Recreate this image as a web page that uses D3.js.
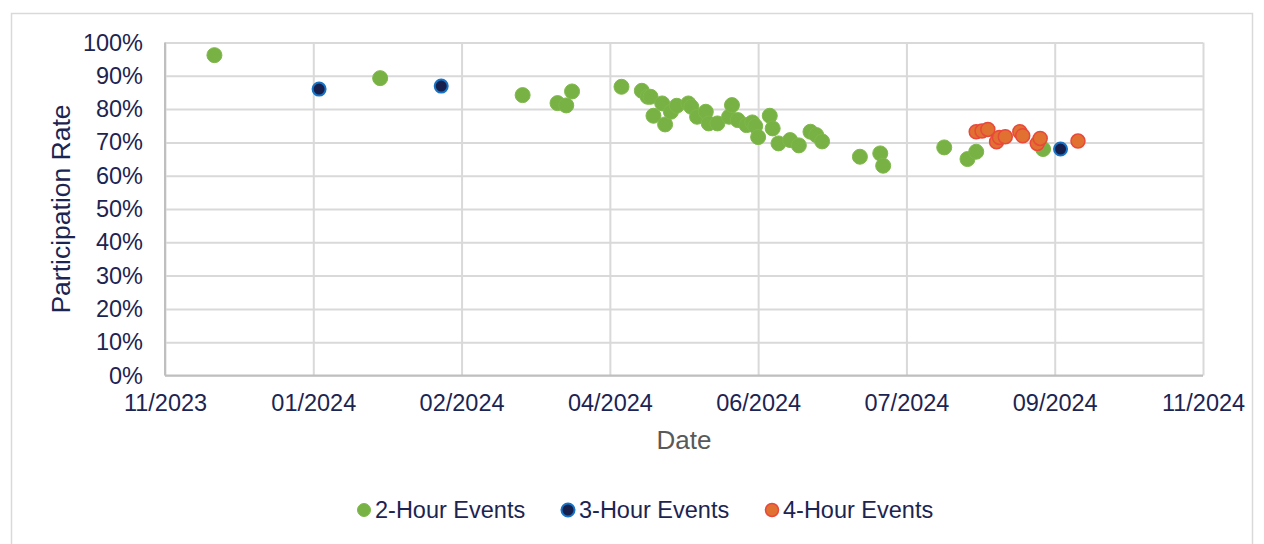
<!DOCTYPE html>
<html>
<head>
<meta charset="utf-8">
<script src="https://cdn.jsdelivr.net/npm/d3@7"></script>
<style>
    body { margin: 0; background: #fff; }
    svg { display: block; font-family: "Liberation Sans", Arial, sans-serif; }
</style>
</head>
<body>
<svg id="chart" width="1264" height="544"></svg>
<script>
'use strict';

// series data: [date, participation rate]
var twoHourEvents = [
    ['2023-11-29', 0.962], ['2024-01-25', 0.893], ['2024-03-14', 0.842],
    ['2024-03-26', 0.818], ['2024-03-29', 0.811], ['2024-03-31', 0.853],
    ['2024-04-17', 0.867], ['2024-04-24', 0.855], ['2024-04-26', 0.837],
    ['2024-04-27', 0.837], ['2024-04-28', 0.780], ['2024-05-01', 0.817],
    ['2024-05-02', 0.754], ['2024-05-04', 0.792], ['2024-05-06', 0.810],
    ['2024-05-10', 0.817], ['2024-05-11', 0.807], ['2024-05-13', 0.777],
    ['2024-05-16', 0.792], ['2024-05-17', 0.757], ['2024-05-20', 0.757],
    ['2024-05-24', 0.777], ['2024-05-25', 0.812], ['2024-05-27', 0.767],
    ['2024-05-30', 0.752], ['2024-06-01', 0.760], ['2024-06-02', 0.749],
    ['2024-06-03', 0.716], ['2024-06-07', 0.780], ['2024-06-08', 0.742],
    ['2024-06-10', 0.697], ['2024-06-14', 0.707], ['2024-06-17', 0.691],
    ['2024-06-21', 0.732], ['2024-06-23', 0.722], ['2024-06-25', 0.703],
    ['2024-07-08', 0.657], ['2024-07-15', 0.667], ['2024-07-16', 0.630],
    ['2024-08-06', 0.685], ['2024-08-14', 0.650], ['2024-08-17', 0.672],
    ['2024-09-09', 0.680]
];
var threeHourEvents = [
    ['2024-01-04', 0.860], ['2024-02-15', 0.869], ['2024-09-15', 0.680]
];
var fourHourEvents = [
    ['2024-08-17', 0.732], ['2024-08-19', 0.734], ['2024-08-21', 0.739],
    ['2024-08-24', 0.702], ['2024-08-25', 0.715], ['2024-08-27', 0.717],
    ['2024-09-01', 0.732], ['2024-09-02', 0.720], ['2024-09-07', 0.697],
    ['2024-09-08', 0.712], ['2024-09-21', 0.704]
];

var xTickDates = ['2023-11-12', '2024-01-02', '2024-02-22', '2024-04-13',
                  '2024-06-03', '2024-07-24', '2024-09-13', '2024-11-03'];
var yTickValues = [0, 0.1, 0.2, 0.3, 0.4, 0.5, 0.6, 0.7, 0.8, 0.9, 1];
var seriesNames = ['2-Hour Events', '3-Hour Events', '4-Hour Events'];

(function () {
    var parse = d3.timeParse('%Y-%m-%d');
    var svg = d3.select('#chart');

    var plot = { left: 165, right: 1203, top: 42.5, bottom: 375.5 };
    var tickDates = xTickDates.map(parse);

    var x = d3.scaleTime()
        .domain([tickDates[0], tickDates[tickDates.length - 1]])
        .range([plot.left, plot.right]);
    var y = d3.scaleLinear()
        .domain([0, 1])
        .range([plot.bottom, plot.top]);

    // outer chart border
    svg.append('rect')
        .attr('x', 11.5).attr('y', 13.5)
        .attr('width', 1241).attr('height', 545)
        .attr('fill', 'none')
        .attr('stroke', '#d9d9d9')
        .attr('stroke-width', 1.5);

    // horizontal grid
    var yAxis = d3.axisLeft(y)
        .tickValues(yTickValues)
        .tickSize(-(plot.right - plot.left))
        .tickPadding(22)
        .tickFormat(d3.format('.0%'));

    var gy = svg.append('g')
        .attr('transform', 'translate(' + plot.left + ',0)')
        .call(yAxis);
    gy.select('.domain').remove();
    gy.selectAll('line').attr('stroke', '#d9d9d9').attr('stroke-width', 2);
    gy.selectAll('text')
        .attr('fill', '#1c2452')
        .style('font-size', '23.5px');

    // vertical grid + date labels
    var xAxis = d3.axisBottom(x)
        .tickValues(tickDates)
        .tickSize(-(plot.bottom - plot.top))
        .tickPadding(19)
        .tickFormat(d3.timeFormat('%m/%Y'));

    var gx = svg.append('g')
        .attr('transform', 'translate(0,' + plot.bottom + ')')
        .call(xAxis);
    gx.select('.domain').remove();
    gx.selectAll('line').attr('stroke', '#d9d9d9').attr('stroke-width', 2);
    gx.selectAll('text')
        .attr('fill', '#1c2452')
        .style('font-size', '23.5px');

    // left and bottom axis lines
    svg.append('line')
        .attr('x1', plot.left).attr('x2', plot.left)
        .attr('y1', plot.top).attr('y2', plot.bottom)
        .attr('stroke', '#bfbfbf').attr('stroke-width', 2);
    svg.append('line')
        .attr('x1', plot.left).attr('x2', plot.right)
        .attr('y1', plot.bottom).attr('y2', plot.bottom)
        .attr('stroke', '#bfbfbf').attr('stroke-width', 2);

    // axis titles
    svg.append('text')
        .attr('transform', 'translate(70,209) rotate(-90)')
        .attr('text-anchor', 'middle')
        .attr('fill', '#1c2452')
        .style('font-size', '26.5px')
        .text('Participation Rate');

    svg.append('text')
        .attr('x', 684).attr('y', 449)
        .attr('text-anchor', 'middle')
        .attr('fill', '#595959')
        .style('font-size', '26px')
        .text('Date');

    var styles = [
        { fill: '#78b244', stroke: '#7fb84b', width: 1, r: 7.5 },
        { fill: '#17204d', stroke: '#1673c6', width: 2, r: 6.5 },
        { fill: '#e07131', stroke: '#e9483b', width: 1.5, r: 7 }
    ];

    function drawSeries(data, st) {
        svg.append('g').selectAll('circle')
            .data(data)
            .enter()
            .append('circle')
            .attr('cx', function (d) { return x(parse(d[0])); })
            .attr('cy', function (d) { return y(d[1]); })
            .attr('r', st.r)
            .attr('fill', st.fill)
            .attr('stroke', st.stroke)
            .attr('stroke-width', st.width);
    }

    drawSeries(twoHourEvents, styles[0]);
    drawSeries(threeHourEvents, styles[1]);
    drawSeries(fourHourEvents, styles[2]);

    // legend
    var legendX = [364, 568, 772];
    var legend = svg.append('g');
    seriesNames.forEach(function (name, i) {
        var st = styles[i];
        legend.append('circle')
            .attr('cx', legendX[i]).attr('cy', 510)
            .attr('r', 6.5)
            .attr('fill', st.fill)
            .attr('stroke', st.stroke)
            .attr('stroke-width', st.width);
        legend.append('text')
            .attr('x', legendX[i] + 11).attr('y', 518)
            .attr('fill', '#1c2452')
            .style('font-size', '23.5px')
            .text(name);
    });
})();
</script>
</body>
</html>
